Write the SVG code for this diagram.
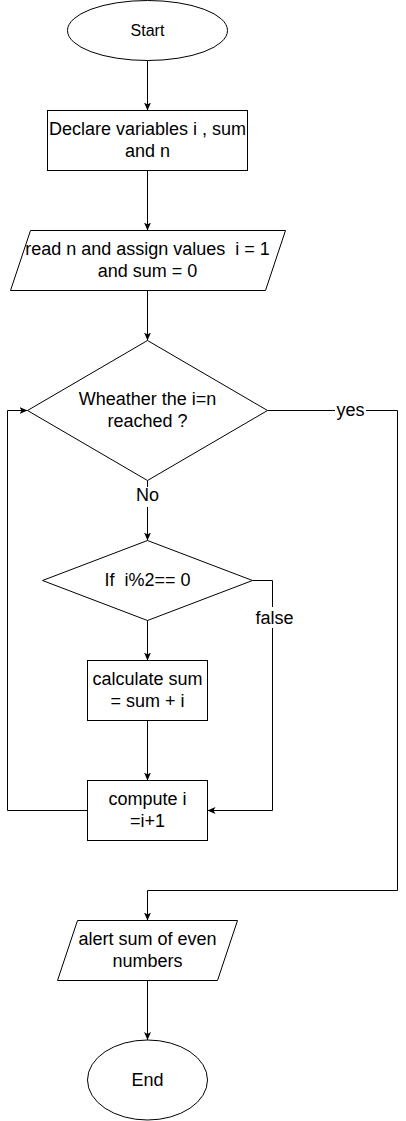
<svg xmlns="http://www.w3.org/2000/svg" width="406" height="1121" viewBox="0 0 406 1121">
  <style>
    .shape { fill: #ffffff; stroke: #000000; stroke-width: 1; }
    .edge { fill: none; stroke: #000000; stroke-width: 1; }
    .arrow { marker-end: url(#arrow); }
    text { font-family: "Liberation Sans", Arial, Helvetica, sans-serif; font-size: 18px; fill: #000000; text-anchor: middle; }
    .small { font-size: 16px; }
    .lblbg { fill: #ffffff; stroke: none; }
  </style>
  <defs>
    <marker id="arrow" viewBox="0 0 8 8" markerWidth="8" markerHeight="8" refX="8" refY="4" orient="auto" markerUnits="userSpaceOnUse">
      <path d="M0,0.5 L8,4 L0,7.5 L2,4 z" fill="#000000" stroke="none"/>
    </marker>
  </defs>

  <g id="connectors">
    <path class="edge arrow" d="M147.5,60.5 V110.5"/>
    <path class="edge arrow" d="M147.5,170.5 V230.5"/>
    <path class="edge arrow" d="M147.5,290.5 V340.5"/>
    <path class="edge arrow" d="M147.5,480.5 V540.5"/>
    <path class="edge arrow" d="M147.5,620.5 V660.5"/>
    <path class="edge arrow" d="M252.5,580.5 H272.5 V810.5 H207.5"/>
    <path class="edge arrow" d="M147.5,720.5 V780.5"/>
    <path class="edge arrow" d="M87.5,810.5 H7.5 V410.5 H27.5"/>
    <path class="edge arrow" d="M267.5,410.5 H397.5 V890.5 H147.5 V920.5"/>
    <path class="edge arrow" d="M147.5,980.5 V1040"/>
    <g id="edge-labels">
      <rect class="lblbg" x="135" y="487" width="25" height="20"/>
      <text x="147.5" y="501">No</text>
      <rect class="lblbg" x="254" y="607" width="40" height="21"/>
      <text x="274.5" y="624">false</text>
      <rect class="lblbg" x="335" y="402" width="31" height="17"/>
      <text x="350.5" y="416">yes</text>
    </g>
  </g>

  <g id="start">
    <ellipse class="shape" cx="147.5" cy="30.5" rx="80" ry="30"/>
    <text class="small" x="147.5" y="36">Start</text>
  </g>

  <g id="declare">
    <rect class="shape" x="47.5" y="110.5" width="200" height="60"/>
    <text x="147.5" y="135">Declare variables i , sum</text>
    <text x="147.5" y="157">and n</text>
  </g>

  <g id="read">
    <polygon class="shape" points="30.5,230.5 285.5,230.5 265.5,290.5 10.5,290.5"/>
    <text x="147.5" y="255" xml:space="preserve">read n and assign values  i = 1</text>
    <text x="147.5" y="277">and sum = 0</text>
  </g>

  <g id="check-n">
    <polygon class="shape" points="147.5,340.5 267.5,410.5 147.5,480.5 27.5,410.5"/>
    <text x="147.5" y="405">Wheather the i=n</text>
    <text x="147.5" y="427">reached ?</text>
  </g>

  <g id="check-even">
    <polygon class="shape" points="147.5,540.5 252.5,580.5 147.5,620.5 42.5,580.5"/>
    <text x="147.5" y="586" xml:space="preserve">If  i%2== 0</text>
  </g>

  <g id="calc-sum">
    <rect class="shape" x="87.5" y="660.5" width="120" height="60"/>
    <text x="147.5" y="685">calculate sum</text>
    <text x="147.5" y="707">= sum + i</text>
  </g>

  <g id="compute-i">
    <rect class="shape" x="87.5" y="780.5" width="120" height="60"/>
    <text x="147.5" y="805">compute i</text>
    <text x="147.5" y="827">=i+1</text>
  </g>

  <g id="alert">
    <polygon class="shape" points="77.5,920.5 237.5,920.5 217.5,980.5 57.5,980.5"/>
    <text x="147.5" y="945">alert sum of even</text>
    <text x="147.5" y="967">numbers</text>
  </g>

  <g id="end">
    <ellipse class="shape" cx="147.5" cy="1080" rx="60" ry="40"/>
    <text x="147.5" y="1086">End</text>
  </g>
</svg>
